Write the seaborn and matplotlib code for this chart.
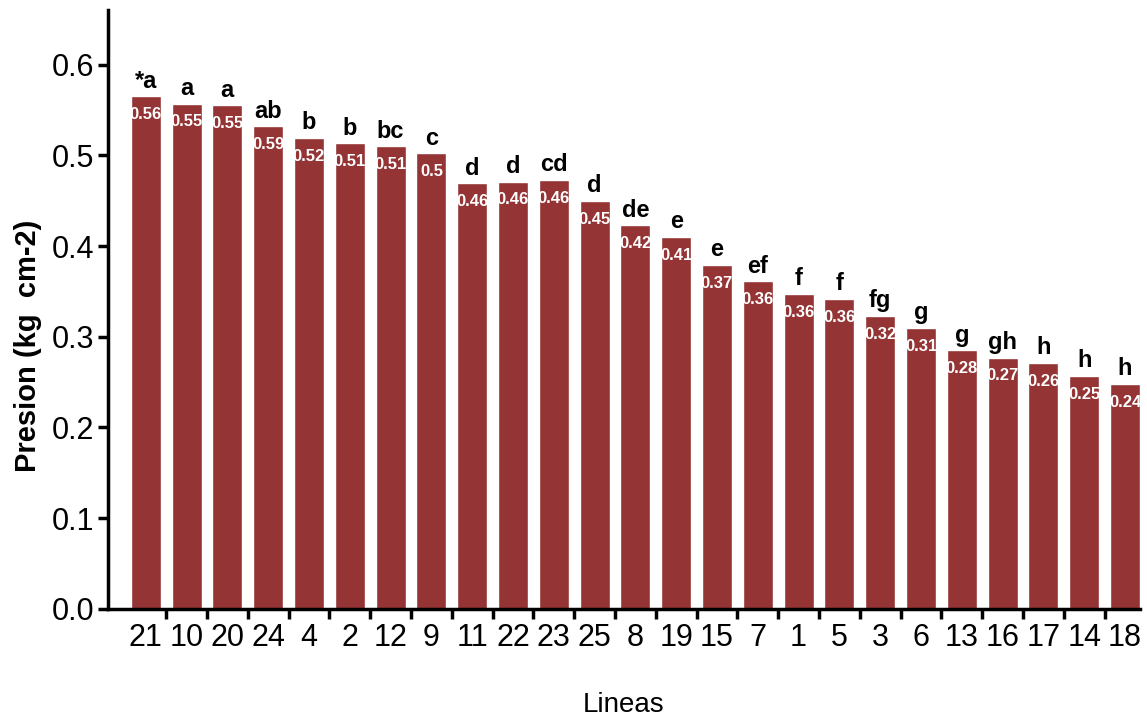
import matplotlib
matplotlib.use('Agg')
import matplotlib.pyplot as plt
from matplotlib.ticker import FixedLocator
import seaborn as sns

lineas = ['21', '10', '20', '24', '4', '2', '12', '9', '11', '22', '23', '25', '8',
          '19', '15', '7', '1', '5', '3', '6', '13', '16', '17', '14', '18']
presion = [0.565, 0.557, 0.555, 0.532, 0.519, 0.513, 0.510, 0.502, 0.469, 0.471,
           0.473, 0.450, 0.423, 0.410, 0.379, 0.361, 0.347, 0.342, 0.323, 0.310,
           0.285, 0.277, 0.271, 0.257, 0.248]
letras = ['*a', 'a', 'a', 'ab', 'b', 'b', 'bc', 'c', 'd', 'd', 'cd', 'd', 'de',
          'e', 'e', 'ef', 'f', 'f', 'fg', 'g', 'g', 'gh', 'h', 'h', 'h']
etiquetas = ['0.56', '0.55', '0.55', '0.59', '0.52', '0.51', '0.51', '0.5', '0.46',
             '0.46', '0.46', '0.45', '0.42', '0.41', '0.37', '0.36', '0.36', '0.36',
             '0.32', '0.31', '0.28', '0.27', '0.26', '0.25', '0.24']

color_barra = '#943434'

sns.set_style('ticks', {'text.color': 'black', 'axes.labelcolor': 'black',
                        'xtick.color': 'black', 'ytick.color': 'black',
                        'axes.edgecolor': 'black'})
plt.rcParams['font.family'] = ['Liberation Sans', 'DejaVu Sans']

fig = plt.figure(figsize=(11.47, 7.24), dpi=100)
ax = fig.add_axes([0.094, 0.159, 0.900, 0.827])

sns.barplot(x=lineas, y=presion, order=lineas, color=color_barra, saturation=1,
            width=0.735, ax=ax)

for i, (h, l, e) in enumerate(zip(presion, letras, etiquetas)):
    ax.text(i, h + 0.004, l, ha='center', va='bottom', fontsize=17,
            fontweight='bold', color='black')
    ax.text(i, h - 0.012, e, ha='center', va='top', fontsize=12,
            fontweight='bold', color='white')

ax.set_xlim(-0.93, 24.37)
ax.set_ylim(0, 0.66)
ax.set_yticks([0.0, 0.1, 0.2, 0.3, 0.4, 0.5, 0.6])
ax.set_yticklabels(['0.0', '0.1', '0.2', '0.3', '0.4', '0.5', '0.6'])

# marcas entre barras, etiquetas debajo de cada barra
ax.xaxis.set_minor_locator(FixedLocator([i + 0.5 for i in range(len(lineas) - 1)]))
ax.tick_params(axis='x', which='major', length=0, pad=10, labelsize=22)
ax.tick_params(axis='x', which='minor', length=7, width=2.5, direction='out')
ax.tick_params(axis='y', length=7, width=2.5, direction='out', pad=3, labelsize=22)

for s in ['left', 'bottom']:
    ax.spines[s].set_linewidth(2.5)
sns.despine(ax=ax)

ax.set_ylabel('Presion (kg  cm-2)', fontsize=21, fontweight='bold')
ax.yaxis.set_label_coords(-0.064, 0.44)
ax.set_xlabel('Lineas', fontsize=20, labelpad=28)

fig.savefig('out.png', dpi=100)
